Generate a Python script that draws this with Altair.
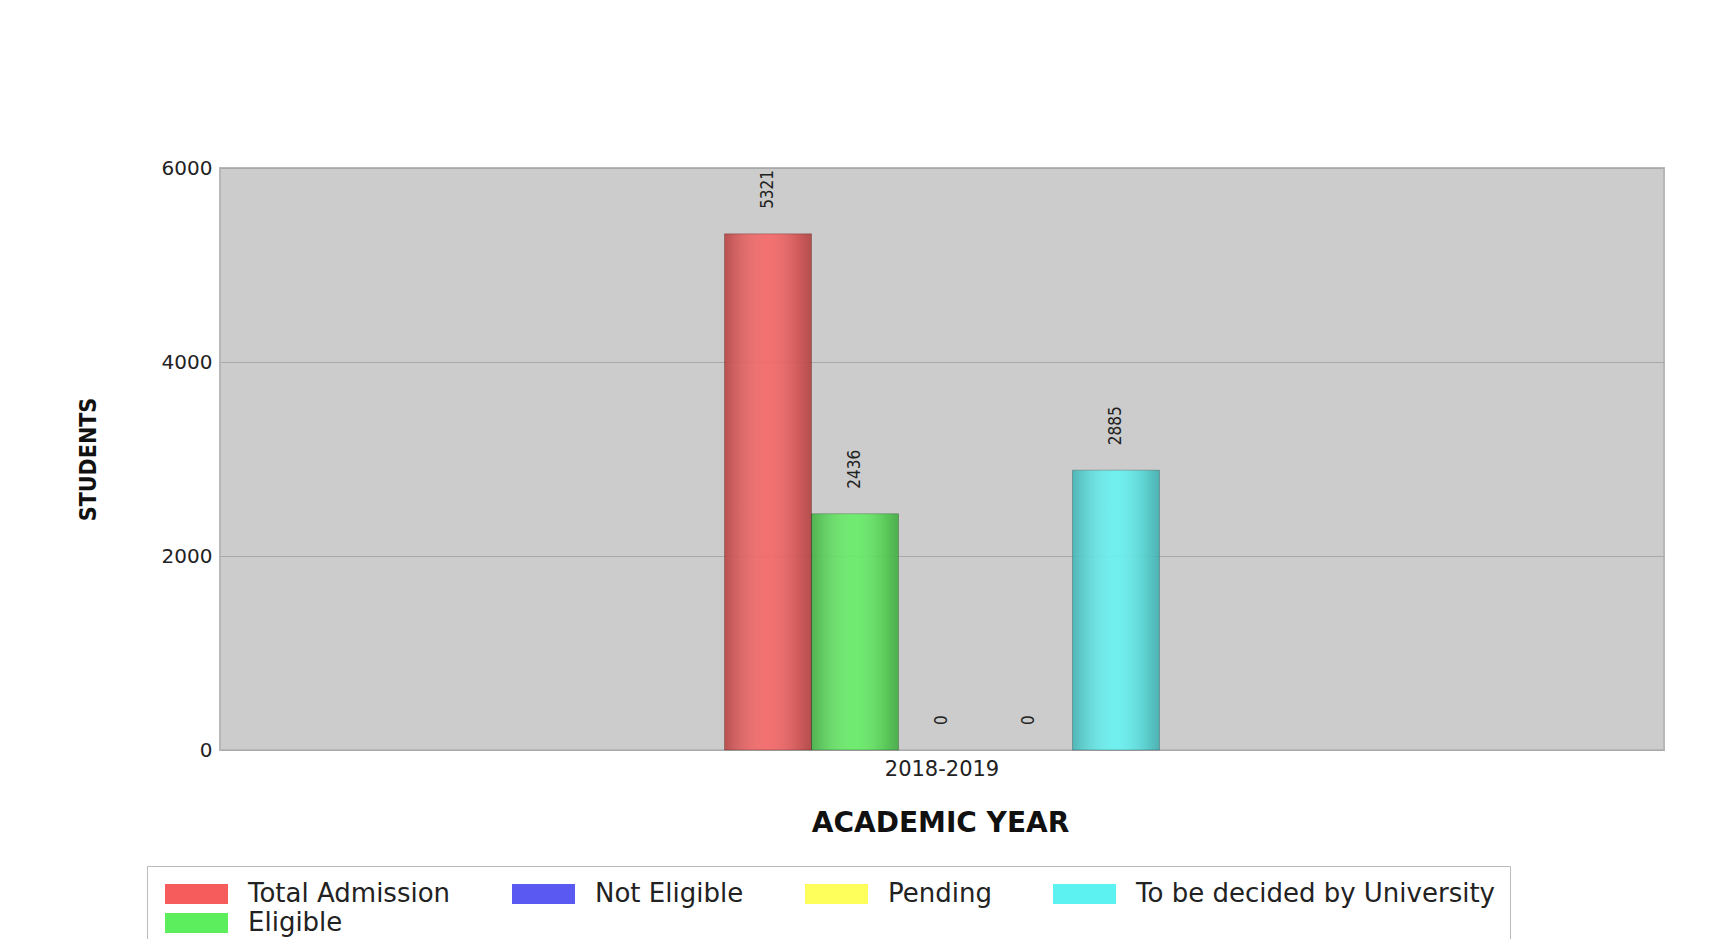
import altair as alt
import pandas as pd

# ---- data ----
years = ["2018-2019"]
series = ["Total Admission", "Eligible", "Not Eligible", "Pending", "To be decided by University"]
values = [5321, 2436, 0, 0, 2885]
legend_order = ["Total Admission", "Not Eligible", "Pending", "To be decided by University", "Eligible"]
legend_colors = ["#F75C5C", "#5A5AF2", "#FFFF5C", "#5CF2F2", "#5CEE5C"]
y_ticks = [0, 2000, 4000, 6000]

df = pd.DataFrame({
    "year": years * len(series),
    "series": series,
    "students": values,
})

x_enc = alt.X(
    "year:N",
    title="ACADEMIC YEAR",
    scale=alt.Scale(paddingInner=0.1378, paddingOuter=1),
    axis=alt.Axis(
        labelAngle=0, ticks=False, tickSize=0, domain=False, grid=False,
        labelPadding=19, labelBaseline="middle",
        labelFont="DejaVu Sans", labelFontSize=21, labelColor="#222222",
        titleFont="DejaVu Sans", titleFontWeight="bold", titleFontSize=28,
        titleColor="#111111", titleX=720, titleY=73,
        titleAlign="center", titleBaseline="middle",
    ),
)
xoff = alt.XOffset(
    "series:N", sort=series,
    scale=alt.Scale(domain=series, paddingInner=0, paddingOuter=0),
)
y_enc = alt.Y(
    "students:Q",
    title="STUDENTS",
    scale=alt.Scale(domain=[0, 6000], nice=False),
    axis=alt.Axis(
        values=y_ticks, format="d", ticks=False, tickSize=0, domain=False,
        grid=True, gridColor="#a9a9a9", gridWidth=1,
        labelFont="DejaVu Sans", labelFontSize=20, labelColor="#222222",
        labelPadding=8,
        titleFont="Liberation Sans Narrow, DejaVu Sans Condensed",
        titleFontWeight="bold", titleFontSize=23, titleColor="#111111",
        titleAngle=270, titleX=-132, titleY=291,
        titleAlign="center", titleBaseline="middle",
    ),
)

color_enc = alt.Color(
    "series:N",
    scale=alt.Scale(domain=legend_order, range=legend_colors),
    legend=alt.Legend(
        orient="none", legendX=-73, legendY=698,
        direction="horizontal", columns=4, title=None,
        symbolType="M-1,-1H5.3V1H-1Z", symbolSize=400,
        symbolStrokeWidth=0, symbolOpacity=1,
        labelFont="DejaVu Sans", labelFontSize=26, labelColor="#222222",
        labelOffset=60, labelLimit=700,
        columnPadding=58, rowPadding=3, padding=15,
        strokeColor="#bbbbbb", fillColor="white",
    ),
)

bars = alt.Chart(df).mark_bar(opacity=0.88).encode(
    x=x_enc, xOffset=xoff, y=y_enc, color=color_enc
)

shade = alt.LinearGradient(
    gradient="linear", x1=0, x2=1, y1=0, y2=0,
    stops=[
        alt.GradientStop(color="rgba(0,0,0,0.24)", offset=0),
        alt.GradientStop(color="rgba(255,255,255,0.04)", offset=0.5),
        alt.GradientStop(color="rgba(0,0,0,0.14)", offset=0.85),
        alt.GradientStop(color="rgba(0,0,0,0.26)", offset=1),
    ],
)

overlay = alt.Chart(df).transform_filter(
    alt.datum.students > 0
).mark_bar(color=shade, stroke="rgba(0,0,0,0.22)", strokeWidth=1).encode(
    x=x_enc, xOffset=xoff, y=y_enc
)

labels = alt.Chart(df).mark_text(
    angle=270, align="left", baseline="middle", dx=25,
    font="Liberation Sans Narrow, DejaVu Sans Condensed", fontSize=17,
    color="#222222",
).encode(
    x=x_enc, xOffset=xoff, y=y_enc, text=alt.Text("students:Q")
)

chart = alt.layer(bars, overlay, labels).properties(
    width=1444,
    height=582,
    autosize=alt.AutoSizeParams(type="none"),
    padding={"left": 212, "top": 160, "right": 40, "bottom": 189},
    background="white",
).configure_view(
    fill="#cccccc", stroke="#b8b8b8", strokeWidth=2
)

chart.save("out.html", embed_options={"renderer": "svg", "actions": False})
